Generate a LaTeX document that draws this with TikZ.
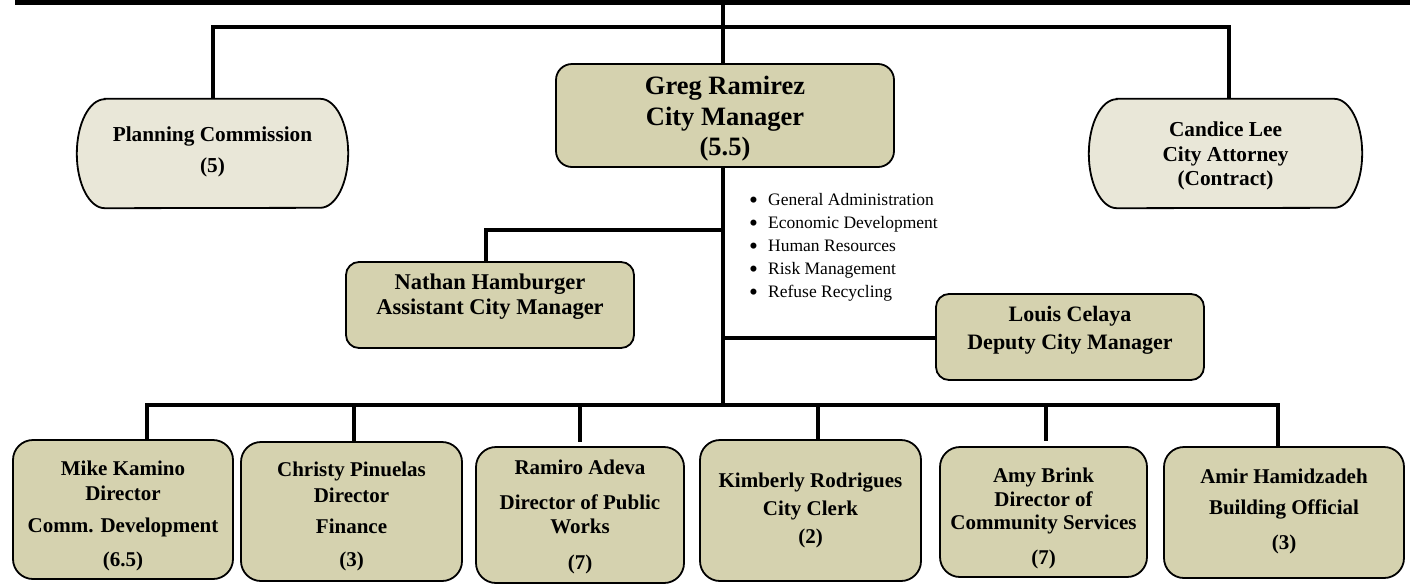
\documentclass[tikz,border=0pt]{standalone}
\usepackage{fontspec}
\setmainfont{Liberation Serif}
\definecolor{boxdark}{HTML}{D5D2AF}
\definecolor{boxlight}{HTML}{E9E7D8}
\newcommand{\bul}{\makebox[19pt][l]{\raisebox{-3pt}{\scalebox{1.45}{\textbullet}}}}
\begin{document}
\begin{tikzpicture}[x=1pt,y=-1pt,
  conn/.style={line width=4.8pt, line join=miter, line cap=butt},
  dbox/.style={draw, line width=1.8pt, fill=boxdark, rounded corners=#1, inner sep=0pt},
  lbox/.style={draw, line width=1.8pt, fill=boxlight},
  hold/.style={inner sep=0pt},
  tx/.style={align=center, inner sep=0pt, font=\bfseries\fontsize{#1}{25}\selectfont},
]
\useasboundingbox (0,0) rectangle (1410,584);

% ---------- boxes ----------
\node[dbox=16pt, minimum width=338pt, minimum height=103pt] (greg) at (725,115.5) {};
\node[tx=26.5, font=\bfseries\fontsize{26.5}{30.5}\selectfont] (greg-t) at (725,119) {Greg Ramirez\\City Manager\\(5.5)};

\node[hold, minimum width=271pt, minimum height=109pt] (pc) at (212.5,153.5) {};
\draw[lbox] ([xshift=28pt]pc.north west) -- ([xshift=-28pt]pc.north east)
  arc[start angle=90, end angle=-90, x radius=28pt, y radius=54.5pt]
  -- ([xshift=28pt]pc.south west)
  arc[start angle=270, end angle=90, x radius=28pt, y radius=54.5pt] -- cycle;
\node[tx=21.3, font=\bfseries\fontsize{21.3}{31}\selectfont] (pc-t) at (212.5,152) {Planning Commission\\(5)};

\node[hold, minimum width=273pt, minimum height=109pt] (cand) at (1225.5,153.5) {};
\draw[lbox] ([xshift=28pt]cand.north west) -- ([xshift=-28pt]cand.north east)
  arc[start angle=90, end angle=-90, x radius=28pt, y radius=54.5pt]
  -- ([xshift=28pt]cand.south west)
  arc[start angle=270, end angle=90, x radius=28pt, y radius=54.5pt] -- cycle;
\node[tx=21.3, font=\bfseries\fontsize{21.3}{24.5}\selectfont] (cand-t) at (1225.5,156) {Candice Lee\\City Attorney\\(Contract)};

\node[dbox=13pt, minimum width=288pt, minimum height=86pt] (nathan) at (490,305) {};
\node[tx=22.5, font=\bfseries\fontsize{22.5}{25}\selectfont] (nathan-t) at (490,297) {Nathan Hamburger\\Assistant City Manager};

\node[dbox=13pt, minimum width=268pt, minimum height=86pt] (louis) at (1070,337) {};
\node[tx=22, font=\bfseries\fontsize{22}{28}\selectfont] (louis-t) at (1070,330.5) {Louis Celaya\\Deputy City Manager};

\node[dbox=20pt, minimum width=220pt, minimum height=139pt] (mike) at (123,509.5) {};
\node[tx=21, font=\bfseries\fontsize{21}{25}\selectfont] (mike-t) at (123,516) {Mike Kamino\\Director\\[7pt]Comm. Development\\[9pt](6.5)};

\node[dbox=20pt, minimum width=221pt, minimum height=139pt] (christy) at (351.5,511.5) {};
\node[tx=21, font=\bfseries\fontsize{21}{26}\selectfont] (christy-t) at (351.5,516.5) {Christy Pinuelas\\Director\\[5pt]Finance\\[7pt](3)};

\node[dbox=20pt, minimum width=208pt, minimum height=136pt] (ramiro) at (580,515) {};
\node[tx=21, font=\bfseries\fontsize{21}{24}\selectfont] (ramiro-t) at (580,517) {Ramiro Adeva\\[11pt]Director of Public\\Works\\[12pt](7)};

\node[dbox=20pt, minimum width=221pt, minimum height=141pt] (kim) at (810.5,510.5) {};
\node[tx=21, font=\bfseries\fontsize{21}{28}\selectfont] (kim-t) at (810.5,510.5) {Kimberly Rodrigues\\City Clerk\\(2)};

\node[dbox=20pt, minimum width=207pt, minimum height=130pt] (amy) at (1043.5,512) {};
\node[tx=21, font=\bfseries\fontsize{21}{23.5}\selectfont] (amy-t) at (1043.5,518.5) {Amy Brink\\Director of\\Community Services\\[11.5pt](7)};

\node[dbox=20pt, minimum width=240pt, minimum height=131pt] (amir) at (1284,512.5) {};
\node[tx=21, font=\bfseries\fontsize{21}{31}\selectfont] (amir-t) at (1284,511.5) {Amir Hamidzadeh\\Building Official\\[4pt](3)};

\node[anchor=west, align=left, inner sep=0pt, font=\fontsize{17.5}{23}\selectfont] (duties) at (749,247)
  {\bul General Administration\\
   \bul Economic Development\\
   \bul Human Resources\\
   \bul Risk Management\\
   \bul Refuse Recycling};

% ---------- connectors ----------
\coordinate (topL) at (15,2.5);
\coordinate (topR) at (1410,2.5);
\draw[conn, line width=5pt] (topL) -- (topR);
\coordinate (t0) at (723,0);
\draw[conn] (t0) -- (t0 |- greg.north);

\coordinate (m1) at (213,27);
\coordinate (m2) at (1229,27);
\draw[conn] (m1 |- pc.north) -- (m1) -- (m2) -- (m2 |- cand.north);

\coordinate (bus0) at (723,405);
\draw[conn] (greg.south -| t0) -- (bus0);

\coordinate (jn) at (723,230);
\coordinate (nb) at (486,230);
\draw[conn] (jn) -- (nb) -- (nb |- nathan.north);

\coordinate (jl) at (723,338);
\draw[conn] (jl) -- (jl -| louis.west);

\coordinate (b1) at (147,405);
\coordinate (b2) at (354,405);
\coordinate (b3) at (580,405);
\coordinate (b4) at (818,405);
\coordinate (b5) at (1046,405);
\coordinate (b6) at (1278,405);
\draw[conn] (b1 |- mike.north) -- (b1) -- (b6) -- (b6 |- amir.north);
\draw[conn] (b2) -- (b2 |- christy.north);
\draw[conn, shorten >=4pt] (b3) -- (b3 |- ramiro.north);
\draw[conn] (b4) -- (b4 |- kim.north);
\draw[conn, shorten >=5pt] (b5) -- (b5 |- amy.north);
\end{tikzpicture}
\end{document}
